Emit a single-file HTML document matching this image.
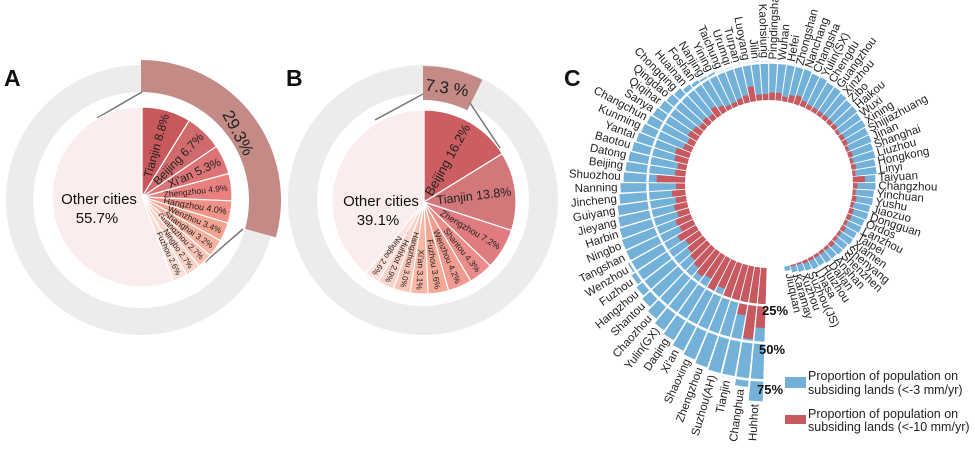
<!DOCTYPE html>
<html><head><meta charset="utf-8">
<style>
html,body{margin:0;padding:0;background:#fff;}
svg{display:block;font-family:"Liberation Sans",Arial,sans-serif;}
</style></head>
<body>
<svg id="s" width="975" height="449" viewBox="0 0 975 449" xmlns="http://www.w3.org/2000/svg">
<text x="4" y="86" font-size="23" font-weight="bold" fill="#111">A</text>
<text x="286" y="86" font-size="23" font-weight="bold" fill="#111">B</text>
<text x="564" y="86" font-size="23" font-weight="bold" fill="#111">C</text>
<g id="g"></g>
<rect x="785" y="377" width="21" height="11" fill="#73b1d9"/>
<text x="808" y="380" font-size="12.5" fill="#222">Proportion of population on</text>
<text x="808" y="394" font-size="12.5" fill="#222">subsiding lands (&lt;-3 mm/yr)</text>
<rect x="785" y="415" width="21" height="9" fill="#c85a5f"/>
<text x="808" y="418" font-size="12.5" fill="#222">Proportion of population on</text>
<text x="808" y="431" font-size="12.5" fill="#222">subsiding lands (&lt;-10 mm/yr)</text>
</svg>
<script>
var NS="http://www.w3.org/2000/svg",G=document.getElementById("g");
function el(t,a,txt){var e=document.createElementNS(NS,t);for(var k in a)e.setAttribute(k,a[k]);if(txt!=null)e.textContent=txt;G.appendChild(e);return e;}
function pt(cx,cy,r,a){var t=a*Math.PI/180;return [cx+r*Math.sin(t),cy-r*Math.cos(t)];}
function wedge(cx,cy,r0,r1,a0,a1){var l=(a1-a0)>180?1:0;var p1=pt(cx,cy,r1,a0),p2=pt(cx,cy,r1,a1);
 var d="M"+p1[0]+","+p1[1]+"A"+r1+","+r1+" 0 "+l+" 1 "+p2[0]+","+p2[1];
 if(r0>0){var p3=pt(cx,cy,r0,a1),p4=pt(cx,cy,r0,a0);d+="L"+p3[0]+","+p3[1]+"A"+r0+","+r0+" 0 "+l+" 0 "+p4[0]+","+p4[1];}
 else d+="L"+cx+","+cy;return d+"Z";}
function pie(cx,cy,R,data,lr){var a=0;data.forEach(function(d){var a1=a+d[1]*3.6;
 el("path",{d:wedge(cx,cy,0,R,a,a1),fill:d[2],stroke:"#fff","stroke-width":1.2});
 if(d[3]){var m=(a+a1)/2,p=pt(cx,cy,lr,m);el("text",{x:p[0],y:p[1],"font-size":d[3],"text-anchor":"end","dominant-baseline":"central",fill:"#222",transform:"rotate("+(m-90)+" "+p[0]+" "+p[1]+")"},d[0]+" "+d[1].toFixed(1)+"%");}
 a=a1;});}
// Panel A
el("circle",{cx:141,cy:200,r:121.5,fill:"none",stroke:"#ececec","stroke-width":27});
el("path",{d:wedge(141,200,108,140,0,105.5),fill:"#c48a86"});
el("line",{x1:97,y1:118,x2:142,y2:92,stroke:"#777","stroke-width":1.5});
el("line",{x1:205,y1:262,x2:243,y2:229,stroke:"#777","stroke-width":1.5});
pie(142,197,90,[["Tianjin",8.8,"#c9585c",12],["Beijing",6.7,"#d06a6c",12],["Xi'an",5.3,"#dc7477",12],["Zhengzhou",4.9,"#e8807f",8.5],["Hangzhou",4.0,"#f09287",9],["Wenzhou",3.4,"#f5a291",8.5],["Shanghai",3.2,"#f7b3a2",8.5],["Guangzhou",2.7,"#f9c4b5",8],["Ningbo",2.7,"#fad3c8",8],["Fuzhou",2.6,"#fbe0d8",8],["Other",55.7,"#fbeded",0]],86);
el("text",{x:99,y:204,"font-size":15,"text-anchor":"middle",fill:"#111"},"Other cities");
el("text",{x:97,y:223,"font-size":15,"text-anchor":"middle",fill:"#111"},"55.7%");
el("text",{x:238,y:133,"font-size":17,"text-anchor":"middle","dominant-baseline":"central",fill:"#222",transform:"rotate(62 238 133)"},"29.3%");
// Panel B
el("circle",{cx:423,cy:200,r:120.5,fill:"none",stroke:"#ececec","stroke-width":29});
el("path",{d:wedge(423,200,100,134,0,26.3),fill:"#c48a86"});
el("line",{x1:375,y1:120,x2:423,y2:94,stroke:"#777","stroke-width":1.5});
el("line",{x1:500,y1:148,x2:470,y2:103,stroke:"#777","stroke-width":1.5});
pie(424,202,92,[["Beijing",16.2,"#cc5e61",13],["Tianjin",13.8,"#d2777a",12.5],["Zhengzhou",7.2,"#e07b80",9],["Shantou",4.3,"#ea8c89",8.5],["Wenzhou",4.2,"#f09a90",8.5],["Fuzhou",3.6,"#f4a896",8.5],["Xi'an",3.1,"#f7b7a4",8.5],["Hangzhou",3.0,"#f9c6b8",8],["Huhhot",2.9,"#fad4cb",8],["Ningbo",2.6,"#fbe2db",8],["Other",39.1,"#fbeded",0]],88);
el("text",{x:381,y:206,"font-size":15,"text-anchor":"middle",fill:"#111"},"Other cities");
el("text",{x:378,y:225,"font-size":15,"text-anchor":"middle",fill:"#111"},"39.1%");
el("text",{x:447,y:88,"font-size":17,"text-anchor":"middle","dominant-baseline":"central",fill:"#222",transform:"rotate(8 447 88)"},"7.3 %");
// Panel C
var names=["Huhhot","Changhua","Tianjin","Suzhou(AH)","Zhengzhou","Shaoxing","Xi'an","Daqing","Yulin(GX)","Chaozhou","Shantou","Hangzhou","Fuzhou","Wenzhou","Tangshan","Ningbo","Harbin","Jieyang","Guiyang","Jincheng","Nanning","Shuozhou","Beijing","Datong","Baotou","Yantai","Kunming","Changchun","Sanya","Qiqihar","Qingdao","Chongqing","Huainan","Foshan","Nanjing","Yining","Taichung","Urumqi","Turpan","Luoyang","Jilin","Kaohsiung","Pingdingshan","Wuhan","Hefei","Zhongshan","Nanchang","Changsha","Yulin(SX)","Chengdu","Guangzhou","Xinzhou","Zibo","Haikou","Wuxi","Xining","Shijiazhuang","Jinan","Shanghai","Liuzhou","Hongkong","Linyi","Taiyuan","Changzhou","Yinchuan","Yushu","Jiaozuo","Dongguan","Ordos","Lanzhou","Taipei","Xiamen","Shenyang","Shenzhen","Anshan","Dalian","Huizhou","Lhasa","Suzhou(JS)","Xuzhou","Karamay","Jiuquan"];
var blue=[89,80,76,75,73,71,69,66,64,61,58,56,54,52,50,49,48,47,46,44,43,41,40,39,38,37,36,35,34,33,32,31,29,28,27,27,26,26,26,26,26,26,25,25,25,24,24,23,23,22,22,21,20,20,19,19,18,18,17,17,16,16,15,15,14,14,13,13,12,12,11,11,10,10,9,9,8,8,7,6,5,3];
var red=[40,48,33,25,26,20,24,18,20,17,15,13,11,14,10,11,8,9,7,9,6,19,7,6,9,10,6,5,7,6,4,5,4,7,5,3,3,4,5,10,4,4,5,5,3,5,6,4,3,3,3,3,3,3,2,3,3,2,3,2,3,2,8,3,2,3,2,3,3,2,3,2,2,3,2,2,2,2,2,1,1,0];
var cx=769,cy=184,r0=84,k=1.5,step=4.25,hw=1.85;
function R(p){return r0+k*p;}
for(var i=0;i<names.length;i++){var a=183.5+i*step;
 el("path",{d:wedge(cx,cy,r0,R(blue[i]),a-hw,a+hw),fill:"#73b1d9"});
 if(red[i]>0)el("path",{d:wedge(cx,cy,r0,R(red[i]),a-hw,a+hw),fill:"#c85a5f"});}
[25,50,75].forEach(function(p){el("circle",{cx:cx,cy:cy,r:R(p),fill:"none",stroke:"#fff","stroke-width":2.5});});
for(var i=0;i<names.length;i++){var a=183.5+i*step,am=((a%360)+360)%360;var p=pt(cx,cy,R(blue[i])+3,a);
 var left=am>180&&am<360;var rot=left?a+90:a-90;
 el("text",{x:p[0],y:p[1],"font-size":11.5,"text-anchor":left?"end":"start","dominant-baseline":"central",fill:"#222",transform:"rotate("+rot+" "+p[0]+" "+p[1]+")"},names[i]);}
el("text",{x:762,y:315,"font-size":13,"font-weight":"bold",fill:"#111"},"25%");
el("text",{x:759,y:354,"font-size":13,"font-weight":"bold",fill:"#111"},"50%");
el("text",{x:757,y:394,"font-size":13,"font-weight":"bold",fill:"#111"},"75%");
</script>
</body></html>
